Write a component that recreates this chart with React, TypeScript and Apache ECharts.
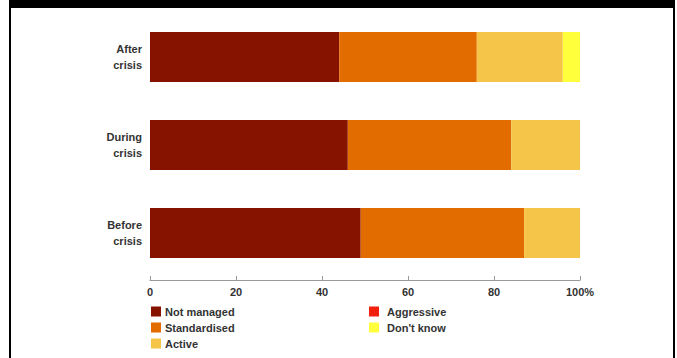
import React, { useEffect, useRef } from "react";
import * as echarts from "echarts";

const categories = ["Before\ncrisis", "During\ncrisis", "After\ncrisis"];
const notManaged = [49, 46, 44];
const standardised = [38, 38, 32];
const active = [13, 16, 20];
const aggressive = [0, 0, 0];
const dontKnow = [0, 0, 4];
const seriesNames = ["Not managed", "Standardised", "Active", "Aggressive", "Don't know"];
const seriesColors = ["#861300", "#E36C00", "#F5C54A", "#F0200C", "#FFFF3C"];
const xTicks = [0, 20, 40, 60, 80, 100];

const FONT = "'Liberation Sans Narrow', 'Liberation Sans', Arial, sans-serif";

export default function App() {
  const ref = useRef<HTMLDivElement>(null);
  useEffect(() => {
    if (!ref.current) return;
    const chart = echarts.init(ref.current, null, { renderer: "svg" });
    const values = [notManaged, standardised, active, aggressive, dontKnow];
    chart.setOption({
      animation: false,
      backgroundColor: "#ffffff",
      textStyle: { fontFamily: FONT },
      grid: { left: 150, right: 97, top: 13, bottom: 81 },
      xAxis: {
        type: "value",
        min: xTicks[0],
        max: xTicks[xTicks.length - 1],
        interval: 20,
        offset: 3,
        axisLine: { show: true, lineStyle: { color: "#999", width: 1 } },
        axisTick: { show: true, inside: true, length: 4, lineStyle: { color: "#999" } },
        splitLine: { show: false },
        axisLabel: {
          margin: 6,
          fontSize: 11,
          fontWeight: "bold",
          color: "#333",
          fontFamily: FONT,
          formatter: (v: number) => (v === 100 ? "100%" : String(v)),
        },
      },
      yAxis: {
        type: "category",
        data: categories,
        axisLine: { show: false },
        axisTick: { show: false },
        axisLabel: {
          margin: 8,
          fontSize: 11,
          fontWeight: "bold",
          color: "#333",
          lineHeight: 16,
          align: "right",
          fontFamily: FONT,
        },
      },
      legend: [
        {
          orient: "vertical",
          left: 146,
          top: 301,
          itemWidth: 10,
          itemHeight: 10,
          itemGap: 5,
          icon: "rect",
          data: seriesNames.slice(0, 3),
          textStyle: { fontSize: 11, fontWeight: "bold", color: "#333", fontFamily: FONT, padding: [0, 0, 0, -1] },
        },
        {
          orient: "vertical",
          left: 364,
          top: 301,
          itemWidth: 10,
          itemHeight: 10,
          itemGap: 5,
          icon: "rect",
          data: seriesNames.slice(3),
          textStyle: { fontSize: 11, fontWeight: "bold", color: "#333", fontFamily: FONT, padding: [0, 0, 0, 3] },
        },
      ],
      series: seriesNames.map((name, i) => ({
        name,
        type: "bar",
        stack: "total",
        barWidth: 50,
        data: values[i],
        itemStyle: { color: seriesColors[i] },
        emphasis: { disabled: true },
      })),
      graphic: [
        { type: "rect", shape: { x: 9, y: 0, width: 666, height: 8 }, style: { fill: "#000" } },
        { type: "rect", shape: { x: 9, y: 0, width: 2, height: 358 }, style: { fill: "#000" } },
        { type: "rect", shape: { x: 673, y: 0, width: 2, height: 358 }, style: { fill: "#000" } },
      ],
    });
    return () => chart.dispose();
  }, []);
  return (
    <div
      ref={ref}
      style={{ position: "fixed", left: 0, top: 0, width: 677, height: 358 }}
    />
  );
}
